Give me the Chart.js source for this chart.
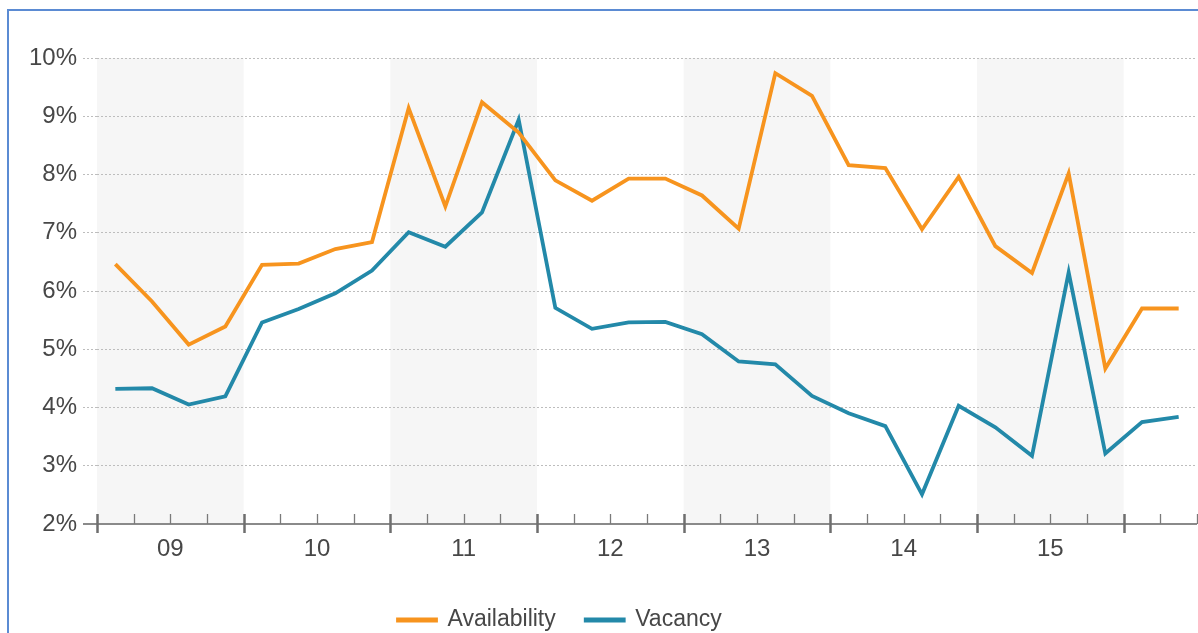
<!DOCTYPE html>
<html>
<head>
<meta charset="utf-8">
<script src="https://cdn.jsdelivr.net/npm/chart.js@4.4.1/dist/chart.umd.min.js"></script>
<style>
  html, body { margin: 0; padding: 0; background: #fff; overflow: hidden; width: 1198px; height: 633px; }
  #frame { position: absolute; left: 7px; top: 9px; width: 1300px; height: 700px; border-left: 2px solid #5b8bd3; border-top: 2px solid #5b8bd3; }
  #wrap { position: absolute; left: 0; top: 0; width: 1198px; height: 642px; }
</style>
</head>
<body>
<div id="frame"></div>
<div id="wrap"><canvas id="myChart"></canvas></div>
<script>
// quarterly rates, 2009 Q1 .. 2016 Q2
const years = ['09', '10', '11', '12', '13', '14', '15', '16'];
const availability = [6.46, 5.82, 5.08, 5.39, 6.45, 6.47, 6.72, 6.84,
  9.14, 7.45, 9.24, 8.72, 7.90, 7.55, 7.93, 7.93,
  7.64, 7.07, 9.74, 9.35, 8.16, 8.11, 7.06, 7.96,
  6.77, 6.31, 8.02, 4.67, 5.70, 5.70];
const vacancy = [4.32, 4.33, 4.05, 4.19, 5.46, 5.69, 5.96, 6.35,
  7.01, 6.76, 7.35, 8.94, 5.71, 5.35, 5.46, 5.47,
  5.26, 4.79, 4.74, 4.20, 3.90, 3.68, 2.51, 4.03,
  3.66, 3.17, 6.32, 3.21, 3.75, 3.84];
const yTicks = [2, 3, 4, 5, 6, 7, 8, 9, 10];

const orange = '#f7941e';
const teal = '#2389a9';
const textGrey = '#474747';
const nQ = availability.length;

// points sit in the middle of each quarter slot
const toPoints = arr => arr.map((v, i) => ({ x: i + 0.5, y: v }));

// grey bands behind every other year, and the quarter / year tick marks
const decor = {
  id: 'decor',
  beforeDraw(chart) {
    const { ctx, chartArea } = chart;
    const xs = chart.scales.x;
    ctx.save();
    ctx.fillStyle = '#f6f6f6';
    for (let y = 0; y < years.length; y += 2) {
      const a = xs.getPixelForValue(y * 4);
      const b = xs.getPixelForValue(Math.min(y * 4 + 4, nQ));
      ctx.fillRect(a, chartArea.top, b - a, chartArea.bottom - chartArea.top);
    }
    ctx.restore();
  },
  afterDraw(chart) {
    const { ctx, chartArea } = chart;
    const xs = chart.scales.x;
    const yb = chartArea.bottom;
    ctx.save();
    ctx.strokeStyle = '#8a8a8a';
    ctx.lineWidth = 2;
    ctx.beginPath();
    ctx.moveTo(chartArea.left - 14, yb);
    ctx.lineTo(chartArea.right, yb);
    ctx.stroke();
    for (let i = 0; i <= nQ; i++) {
      const x = Math.round(xs.getPixelForValue(i)) + 0.5;
      const major = i % 4 === 0;
      ctx.strokeStyle = major ? '#6e6e6e' : '#7a7a7a';
      ctx.lineWidth = major ? 2.5 : 1.3;
      ctx.beginPath();
      ctx.moveTo(x, yb - 10);
      ctx.lineTo(x, major ? yb + 9 : yb);
      ctx.stroke();
    }
    ctx.restore();
  },
  afterLayout(chart) {
    // legend sits left of centre in the original frame
    const l = chart.legend;
    const dx = 368 - l.left;
    const dy = 578.5 - l.top;
    l.left += dx; l.right += dx;
    l.top += dy; l.bottom += dy;
  }
};

const ctx = document.getElementById('myChart');

new Chart(ctx, {
  type: 'line',
  data: {
    datasets: [{
      label: 'Availability',
      data: toPoints(availability),
      borderColor: orange,
      backgroundColor: orange,
      borderWidth: 3.8,
      pointRadius: 0,
      tension: 0
    }, {
      label: 'Vacancy',
      data: toPoints(vacancy),
      borderColor: teal,
      backgroundColor: teal,
      borderWidth: 3.8,
      pointRadius: 0,
      tension: 0
    }]
  },
  options: {
    responsive: true,
    maintainAspectRatio: false,
    animation: false,
    layout: { padding: { top: 58, right: 1, left: 0, bottom: 0 } },
    scales: {
      x: {
        type: 'linear',
        min: 0,
        max: nQ,
        afterBuildTicks(scale) {
          scale.ticks = years.map((y, k) => ({ value: k * 4 + 2 })).filter(t => t.value < nQ);
        },
        afterFit(scale) { scale.height = 55; },
        grid: { display: false, drawTicks: false },
        border: { display: false },
        ticks: {
          autoSkip: false,
          maxRotation: 0,
          padding: 11,
          color: textGrey,
          font: { family: "'Liberation Sans', Arial, sans-serif", size: 24 },
          callback: v => years[(v - 2) / 4]
        }
      },
      y: {
        min: 2,
        max: 10,
        afterBuildTicks(scale) {
          scale.ticks = yTicks.map(v => ({ value: v }));
        },
        afterFit(scale) { scale.width = 97; },
        grid: {
          color: c => c.tick.value === 2 ? 'rgba(0,0,0,0)' : '#bdbdbd',
          lineWidth: 1,
          tickLength: 14,
          tickColor: c => c.tick.value === 2 ? 'rgba(0,0,0,0)' : '#bdbdbd',
          tickBorderDash: [2, 2]
        },
        border: { display: false, dash: [2, 2] },
        ticks: {
          padding: 6,
          color: textGrey,
          font: { family: "'Liberation Sans', Arial, sans-serif", size: 24 },
          callback: v => v + '%'
        }
      }
    },
    plugins: {
      legend: {
        position: 'bottom',
        align: 'start',
        labels: {
          boxWidth: 38,
          boxHeight: 1,
          padding: 30,
          color: textGrey,
          font: { family: "'Liberation Sans', Arial, sans-serif", size: 23 }
        }
      },
      tooltip: { enabled: false }
    }
  },
  plugins: [decor]
});
</script>
</body>
</html>
